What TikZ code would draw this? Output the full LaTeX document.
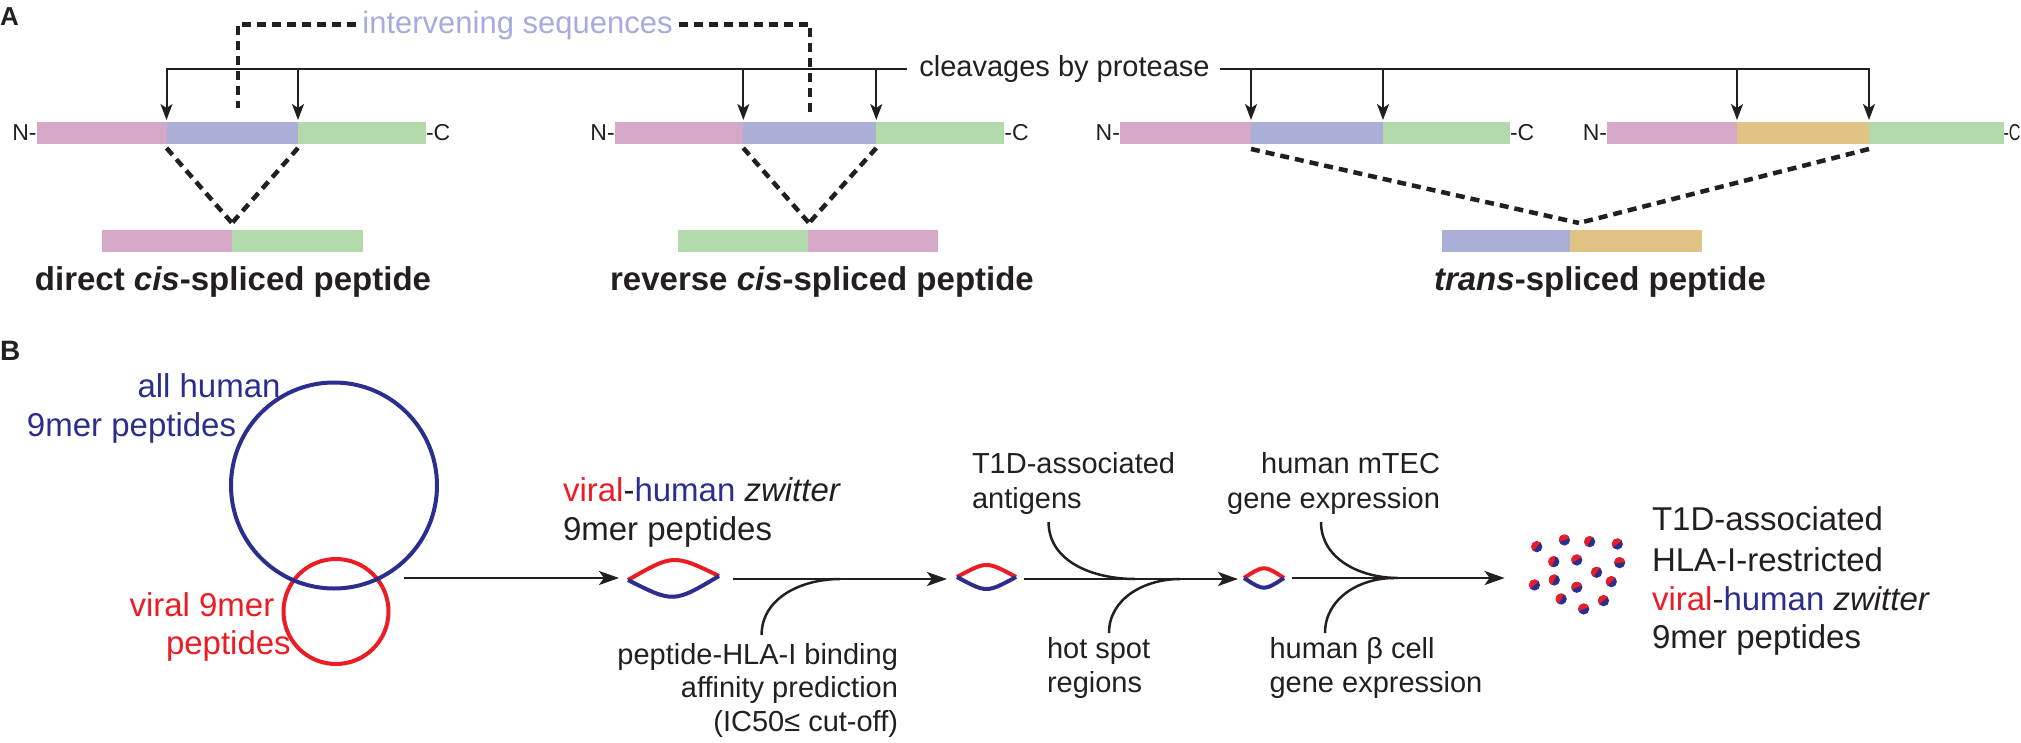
\documentclass[tikz,border=0pt]{standalone}
\usepackage{fontspec}
\setmainfont{Liberation Sans}
\usetikzlibrary{arrows.meta}
\definecolor{pinkbar}{HTML}{D5A8C8}
\definecolor{bluebar}{HTML}{AAAFD8}
\definecolor{greenbar}{HTML}{B2D9AA}
\definecolor{tanbar}{HTML}{E0C385}
\definecolor{intcol}{HTML}{A6ABDB}
\definecolor{navy}{HTML}{2B2E8C}
\definecolor{vred}{HTML}{EC1C24}
\definecolor{ink}{HTML}{231F20}
\newcommand\fsz[1]{\fontsize{#1}{#1}\selectfont}
\newcommand\rbdot[3]{%
  \fill[navy] (#1,#2) circle[radius=5.6];
  \fill[vred] (#1,#2) -- ++(#3-90:5.6) arc[start angle=#3-90, delta angle=180, radius=5.6] -- cycle;}
\begin{document}
\begin{tikzpicture}[x=1pt,y=-1pt,
  txt/.style={inner sep=0pt, outer sep=0pt, text=ink},
  clv/.style={line width=2pt, draw=ink, -{Stealth[length=16pt, width=12pt, inset=4pt]}},
  dsh/.style={line width=4.5pt, draw=ink, dash pattern=on 9pt off 6pt},
  flow/.style={line width=2.5pt, draw=ink, -{Stealth[length=20pt, width=14pt, inset=5pt]}},
  feed/.style={line width=2.5pt, draw=ink},
  lens/.style={line width=4pt},
  ring/.style={line width=4pt}]
\useasboundingbox (0,0) rectangle (2021,742);

% ---------------- Panel A ----------------
\node[txt, anchor=base west] (labA) at (0,25) {\fsz{26}\textbf{A}};

% full-length precursor bars
\fill[pinkbar] (36.6,122) rectangle (166.5,144);
\fill[bluebar] (166.5,122) rectangle (298,144);
\fill[greenbar] (298,122) rectangle (426,144);
\fill[pinkbar] (614.7,122) rectangle (743.3,144);
\fill[bluebar] (743.3,122) rectangle (876.3,144);
\fill[greenbar] (876.3,122) rectangle (1004.4,144);
\fill[pinkbar] (1120,122) rectangle (1251,144);
\fill[bluebar] (1251,122) rectangle (1383,144);
\fill[greenbar] (1383,122) rectangle (1510,144);
\fill[pinkbar] (1607,122) rectangle (1737,144);
\fill[tanbar] (1737,122) rectangle (1869,144);
\fill[greenbar] (1869,122) rectangle (2003.5,144);

\node[txt, anchor=east] (n1) at (36.6,133) {\fsz{23}N-};
\node[txt, anchor=west] (c1) at (426,133) {\fsz{23}-C};
\node[txt, anchor=east] (n2) at (614.7,133) {\fsz{23}N-};
\node[txt, anchor=west] (c2) at (1004.4,133) {\fsz{23}-C};
\node[txt, anchor=east] (n3) at (1120,133) {\fsz{23}N-};
\node[txt, anchor=west] (c3) at (1510,133) {\fsz{23}-C};
\node[txt, anchor=east] (n4) at (1607,133) {\fsz{23}N-};
\node[txt, anchor=west] (c4) at (2003.5,133) {\fsz{23}\scalebox{0.7}[1]{-C}};

% spliced products
\fill[pinkbar] (102,230) rectangle (231.7,252);
\fill[greenbar] (231.7,230) rectangle (362.5,252);
\fill[greenbar] (678,230) rectangle (807.6,252);
\fill[pinkbar] (807.6,230) rectangle (938.4,252);
\fill[bluebar] (1442,230) rectangle (1570,252);
\fill[tanbar] (1570,230) rectangle (1702,252);

\node[txt, anchor=base] (lab1) at (233,290) {\fsz{33}\textbf{direct \textit{cis}-spliced peptide}};
\node[txt, anchor=base] (lab2) at (822,290) {\fsz{33}\textbf{reverse \textit{cis}-spliced peptide}};
\node[txt, anchor=base] (lab3) at (1600,290) {\fsz{33}\textbf{\textit{trans}-spliced peptide}};

% cleavage arrows
\foreach \n/\x in {a/166.5, b/298, c/743.3, d/876.3, e/1251, f/1383, g/1737, h/1869}{
  \coordinate (k\n) at (\x,69);
  \coordinate (t\n) at (\x,120);
}
\coordinate (cl) at (907,69);
\coordinate (cr) at (1220,69);
\node[txt, anchor=base] (cleave) at (1064.5,76) {\fsz{29}cleavages by protease};
\draw[clv] (cl) -| (ta);
\draw[clv] (cr) -| (th);
\foreach \n in {b,c,d,e,f,g}{ \draw[clv] (k\n) -- (t\n); }

% intervening sequences bracket
\node[txt, anchor=base, text=intcol] (interv) at (517.5,33) {\fsz{31}intervening sequences};
\coordinate (ivlt) at (356,24.3);
\coordinate (ivrt) at (679,24.3);
\coordinate (ivl) at (238,108);
\coordinate (ivr) at (810,112);
\draw[dsh] (ivlt) -| (ivl);
\draw[dsh] (ivrt) -| (ivr);

% splice dashed lines
\coordinate (s1a) at (166.5,148); \coordinate (s1b) at (298,148); \coordinate (s1m) at (232,223);
\coordinate (s2a) at (743.3,148); \coordinate (s2b) at (876.3,148); \coordinate (s2m) at (809,223);
\coordinate (s3a) at (1251,149); \coordinate (s3b) at (1869,149); \coordinate (s3m) at (1579,223);
\draw[dsh] (s1a) -- (s1m);
\draw[dsh] (s1b) -- (s1m);
\draw[dsh] (s2a) -- (s2m);
\draw[dsh] (s2b) -- (s2m);
\draw[dsh] (s3a) -- (s3m);
\draw[dsh] (s3b) -- (s3m);

% ---------------- Panel B ----------------
\node[txt, anchor=base west] (labB) at (0,360) {\fsz{28}\textbf{B}};

\draw[ring, vred] (336,611.5) circle[radius=52.5];
\draw[ring, navy] (334,485.5) circle[radius=103];
\coordinate (viralc) at (336,611.5);
\coordinate (humanc) at (334,485.5);

\node[txt, anchor=base west, text=navy] (hum1) at (137.5,397) {\fsz{33}all human};
\node[txt, anchor=base west, text=navy] (hum2) at (27,436.7) {\fsz{33}9mer peptides};
\node[txt, anchor=base west, text=vred] (vir1) at (129.5,616) {\fsz{33}viral 9mer};
\node[txt, anchor=base west, text=vred] (vir2) at (166,654) {\fsz{33}peptides};

% step 1
\coordinate (a1s) at (404,578); \coordinate (a1e) at (619,578);
\draw[flow] (a1s) -- (a1e);
\node[txt, anchor=base west] (zw1) at (563,501.7) {\fsz{33}\textcolor{vred}{viral}-\textcolor{navy}{human} \textit{zwitter}};
\node[txt, anchor=base west] (zw2) at (563,540.7) {\fsz{33}9mer peptides};

\coordinate (l1a) at (628,580); \coordinate (l1b) at (719,576);
\draw[lens, vred] (l1a) .. controls (673.5,554) .. (l1b);
\draw[lens, navy] (l1a) .. controls (673.5,603) .. (l1b);

% step 2
\coordinate (a2s) at (732.6,579); \coordinate (a2e) at (947,579);
\draw[flow] (a2s) -- (a2e);
\coordinate (f1s) at (761.6,635); \coordinate (f1j) at (840,579);
\draw[feed] (f1s) to[out=90, in=180] (f1j);
\node[txt, anchor=base east] (hla1) at (898,664) {\fsz{29}peptide-HLA-I binding};
\node[txt, anchor=base east] (hla2) at (898,697) {\fsz{29}affinity prediction};
\node[txt, anchor=base east] (hla3) at (898,731.5) {\fsz{29}(IC50≤ cut-off)};

\coordinate (l2a) at (957,577); \coordinate (l2b) at (1016,577);
\draw[lens, vred] (l2a) .. controls (986.5,561) .. (l2b);
\draw[lens, navy] (l2a) .. controls (986.5,593) .. (l2b);

% step 3
\coordinate (a3s) at (1024,579); \coordinate (a3e) at (1238,579);
\draw[flow] (a3s) -- (a3e);
\coordinate (f2s) at (1048.6,522); \coordinate (f2j) at (1135,579);
\coordinate (f3s) at (1109,633); \coordinate (f3j) at (1180,579);
\draw[feed] (f2s) to[out=-90, in=180] (f2j);
\draw[feed] (f3s) to[out=90, in=180] (f3j);
\node[txt, anchor=base west] (t1d1) at (972,473.3) {\fsz{29}T1D-associated};
\node[txt, anchor=base west] (t1d2) at (972,508) {\fsz{29}antigens};
\node[txt, anchor=base west] (hot1) at (1047,658) {\fsz{29}hot spot};
\node[txt, anchor=base west] (hot2) at (1047,692.7) {\fsz{29}regions};

\coordinate (l3a) at (1244,578); \coordinate (l3b) at (1284,578);
\draw[lens, vred] (l3a) .. controls (1264,565) .. (l3b);
\draw[lens, navy] (l3a) .. controls (1264,591) .. (l3b);

% step 4
\coordinate (a4s) at (1291.5,578); \coordinate (a4e) at (1504.6,578);
\draw[flow] (a4s) -- (a4e);
\coordinate (f4s) at (1321,522); \coordinate (f4j) at (1398,578);
\coordinate (f5s) at (1325,633); \coordinate (f5j) at (1394,578);
\draw[feed] (f4s) to[out=-90, in=180] (f4j);
\draw[feed] (f5s) to[out=90, in=180] (f5j);
\node[txt, anchor=base east] (mt1) at (1440,473.3) {\fsz{29}human mTEC};
\node[txt, anchor=base east] (mt2) at (1440,508) {\fsz{29}gene expression};
\node[txt, anchor=base west] (bc1) at (1269.6,658) {\fsz{29}human β cell};
\node[txt, anchor=base west] (bc2) at (1269.6,692.7) {\fsz{29}gene expression};

% result dots
\rbdot{1536.8}{546.7}{220}
\rbdot{1564.4}{540}{250}
\rbdot{1589.7}{541.7}{210}
\rbdot{1617.3}{544}{235}
\rbdot{1553.8}{561.7}{200}
\rbdot{1576.8}{560}{240}
\rbdot{1619.6}{562.7}{260}
\rbdot{1596.6}{572.3}{215}
\rbdot{1534.5}{585}{230}
\rbdot{1554.3}{580}{205}
\rbdot{1576.8}{587.3}{245}
\rbdot{1611.3}{581.7}{225}
\rbdot{1561.2}{599}{210}
\rbdot{1583.7}{609}{250}
\rbdot{1603.5}{600.7}{230}

\node[txt, anchor=base west] (res1) at (1652,530) {\fsz{33}T1D-associated};
\node[txt, anchor=base west] (res2) at (1652,571) {\fsz{33}HLA-I-restricted};
\node[txt, anchor=base west] (res3) at (1652,610) {\fsz{33}\textcolor{vred}{viral}-\textcolor{navy}{human} \textit{zwitter}};
\node[txt, anchor=base west] (res4) at (1652,648.5) {\fsz{33}9mer peptides};
\end{tikzpicture}
\end{document}
